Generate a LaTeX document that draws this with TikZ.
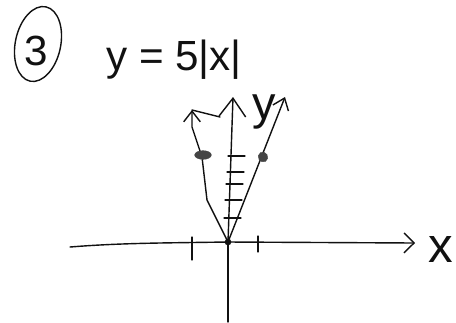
\documentclass[tikz,border=0pt]{standalone}
\usepackage{fontspec}
\setmainfont{Liberation Sans}
\usepackage{tikz}
\usetikzlibrary{arrows.meta,shapes.geometric,calc}
\definecolor{cpen}{HTML}{111111}
\definecolor{cdot}{HTML}{444444}
\tikzset{
  pen/.style={draw=cpen, line width=1.2pt, line cap=round, line join=round},
  axisl/.style={pen, -{Straight Barb[length=3mm, width=6mm, line width=1.2pt]}},
  axisu/.style={pen, -{Straight Barb[length=5.5mm, width=8mm, line width=1.2pt]}},
  branch/.style={pen, -{Straight Barb[length=3.2mm, width=5mm, line width=1.2pt]}},
  tickm/.style={pen, line width=1pt},
  hand/.style={inner sep=0pt, text=cpen},
  blob/.style={ellipse, fill=cdot, draw=cdot, inner sep=0pt},
}

\begin{document}
\begin{tikzpicture}[x=0.03cm, y=-0.03cm]
\useasboundingbox (0,0) rectangle (456,322);
% heading
\node[hand, font=\fontsize{36}{36}\selectfont] (num) at (36,51) {3};
\draw[pen, rotate around={-12:(38,44)}] (38,44) ellipse [x radius=0.68cm, y radius=1.14cm];
\node[hand, anchor=base west, font=\fontsize{36}{36}\selectfont] (eq) at (106,70) {y = 5|x|};
% axes
\coordinate (O) at (228,242);
\coordinate (xl) at (70,247);
\coordinate (xr) at (415,243);
\coordinate (yb) at (228,322);
\coordinate (yt) at (233,97);
\draw[axisl] (xl) .. controls (120,243) and (160,243) .. (O) -- (xr);
\draw[pen] (yb) -- (O);
\draw[axisu] (O) -- (yt);
\node[hand, font=\fontsize{42}{42}\selectfont] (xlab) at (441,249) {x};
\node[hand, font=\fontsize{40}{40}\selectfont] (ylab) at (264,112) {y};
% ticks
\draw[tickm] (192,237) -- (192,260);
\draw[tickm] (258,236) -- (258,252);
\foreach \ty/\tx in {156/228, 172/227, 184/226, 200/225, 218/224}
  \draw[tickm] (\tx,\ty) -- ++(17,0);
% graph of y = 5|x|
\coordinate (L) at (192,110);
\coordinate (R) at (285,97);
\coordinate (kink) at (220,117);
\draw[branch] (O) -- (207,200) -- (202,157) -- (192,127) -- (L);
\draw[branch] (O) -- (R);
\draw[pen] (L) -- (kink);
% points
\node[blob, minimum width=0.5cm, minimum height=0.26cm] (dl) at (203,155) {};
\node[blob, minimum width=0.28cm, minimum height=0.3cm, rotate=30] (dr) at (263,157) {};
\node[circle, fill=cpen, inner sep=0pt, minimum size=0.2cm] (o) at (O) {};
\end{tikzpicture}
\end{document}
